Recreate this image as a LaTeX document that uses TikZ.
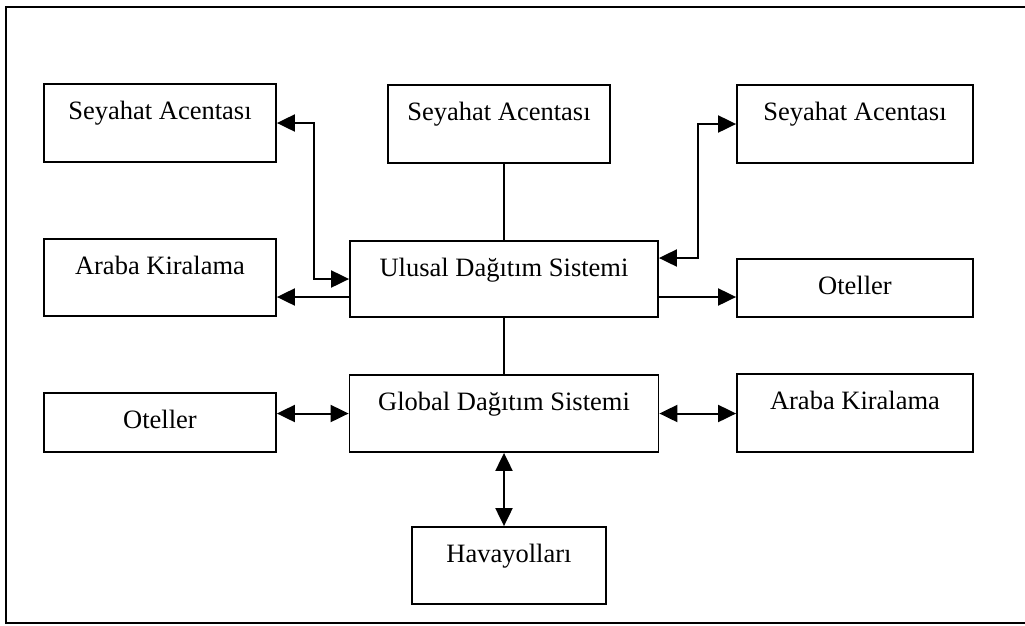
\documentclass[tikz,border=0pt]{standalone}
\usepackage{fontspec}
\setmainfont{Liberation Serif}
\usetikzlibrary{arrows.meta}
\begin{document}
\begin{tikzpicture}[x=1pt,y=-1pt,
  box/.style={draw, line width=1.8pt, inner sep=0pt, text height=20pt,
    font=\fontsize{26.5}{30}\selectfont},
  conn/.style={line width=2pt},
  >={Triangle[length=18pt,width=17pt]}]
\useasboundingbox (0,0) rectangle (1025,625);
% outer frame (open to the right)
\draw[line width=1.6pt] (1025,7) -- (6,7) -- (6,623) -- (1025,623);
% boxes
\node[box, minimum width=232pt, minimum height=78pt, text depth=28pt] (sa1) at (160,123) {Seyahat Acentası};
\node[box, minimum width=222pt, minimum height=78pt, text depth=28pt] (sa2) at (499,124) {Seyahat Acentası};
\node[box, minimum width=236pt, minimum height=78pt, text depth=28pt] (sa3) at (855,124) {Seyahat Acentası};
\node[box, minimum width=308pt, minimum height=76pt, text depth=26pt] (ulusal) at (504,279) {Ulusal Dağıtım Sistemi};
\node[box, minimum width=232pt, minimum height=77pt, text depth=27pt] (ak1) at (160,277.5) {Araba Kiralama};
\node[box, minimum width=236pt, minimum height=58pt, text depth=8pt] (ot1) at (855,288) {Oteller};
\node[box, minimum width=309pt, minimum height=77pt, text depth=27pt] (global) at (504,413.5) {Global Dağıtım Sistemi};
\node[box, minimum width=232pt, minimum height=59pt, text depth=9pt] (ot2) at (160,422.5) {Oteller};
\node[box, minimum width=236pt, minimum height=78pt, text depth=28pt] (ak2) at (855,413) {Araba Kiralama};
\node[box, minimum width=194pt, minimum height=77pt, text depth=27pt] (hava) at (509,565.5) {Havayolları};
% connector anchor points
\coordinate (u1) at ([yshift=-18pt]ulusal.west);
\coordinate (u2) at ([yshift=21pt]ulusal.east);
\coordinate (u3) at ([yshift=-18pt]ulusal.east);
% connectors
\draw[conn,<->] (sa1.east) -- ++(37,0) |- (ulusal.west);
\draw[conn,->] (u1) -- (u1 -| ak1.east);
\draw[conn,<->] (u2) -- ++(39,0) |- (sa3.west);
\draw[conn,->] (u3) -- (u3 -| ot1.west);
\draw[conn] (ulusal.north) -- (ulusal.north |- sa2.south);
\draw[conn] (ulusal.south) -- (ulusal.south |- global.north);
\draw[conn,<->] (ot2.east |- global.west) -- (global.west);
\draw[conn,<->] (global.east) -- (global.east -| ak2.west);
\draw[conn,<->] (global.south) -- (global.south |- hava.north);
\end{tikzpicture}
\end{document}
